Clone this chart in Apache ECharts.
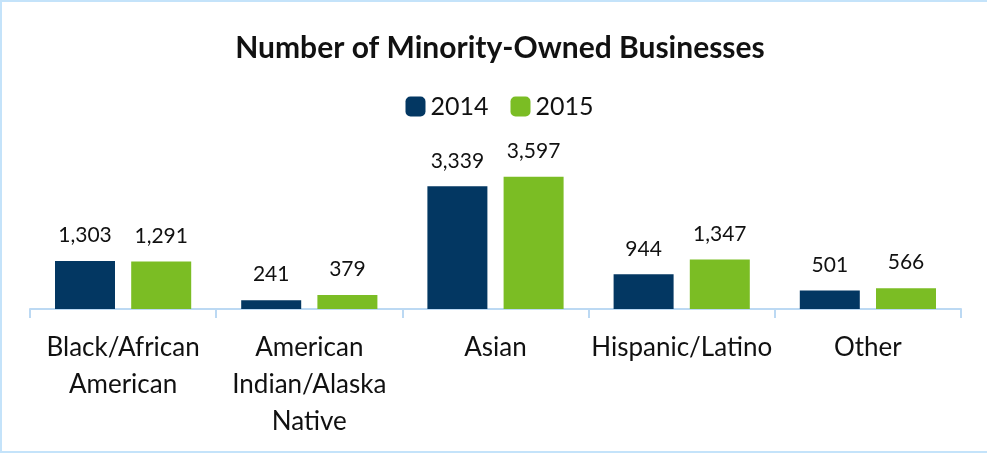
<!DOCTYPE html>
<html>
<head>
<meta charset="utf-8">
<script src="https://cdn.jsdelivr.net/npm/echarts@6/dist/echarts.min.js"></script>
<style>
  html, body { margin: 0; padding: 0; overflow: hidden; background: #fff; }
  .box {
    position: absolute; left: 0; top: 0;
    width: 995px; height: 449px;
    border: 2px solid #c4e3fa;
    box-sizing: content-box;
  }
  #chart { width: 995px; height: 449px; }
</style>
</head>
<body>
<div class="box"><div id="chart"></div></div>
<script>
// category labels (line breaks as in the original)
var categories = ['Black/African\nAmerican', 'American\nIndian/Alaska\nNative', 'Asian', 'Hispanic/Latino', 'Other']
var seriesNames = ['2014', '2015']
var values2014 = [1303, 241, 3339, 944, 501]
var values2015 = [1291, 379, 3597, 1347, 566]

var chart = echarts.init(document.getElementById('chart'))

var labelStyle = {
  show: true,
  position: 'top',
  distance: 15,
  color: '#111',
  fontSize: 21,
  fontFamily: 'Lato',
  formatter: function (p) { return p.value.toLocaleString('en-US') }
}

chart.setOption({
  animation: false,
  backgroundColor: '#fff',
  title: {
    text: 'Number of Minority-Owned Businesses',
    left: 493,
    textAlign: 'center',
    top: 26,
    textStyle: {
      fontFamily: 'Lato',
      fontWeight: 'bold',
      fontSize: 30,
      color: '#111'
    }
  },
  legend: {
    data: seriesNames,
    top: 87,
    left: 'center',
    itemWidth: 20,
    itemHeight: 20,
    itemGap: 22,
    textStyle: { fontFamily: 'Lato', fontSize: 25, color: '#111' }
  },
  grid: {
    left: 28,
    width: 931,
    top: 160,
    bottom: 142,
    containLabel: false
  },
  xAxis: {
    type: 'category',
    data: categories,
    axisLine: { lineStyle: { color: '#bcd9f3', width: 2 } },
    axisTick: { show: true, length: 9, lineStyle: { color: '#bcd9f3', width: 2 } },
    axisLabel: {
      interval: 0,
      margin: 20,
      color: '#111',
      fontFamily: 'Lato',
      fontSize: 26,
      lineHeight: 37
    }
  },
  yAxis: {
    type: 'value',
    min: 0,
    max: 4000,
    show: false,
    splitLine: { show: false }
  },
  series: [{
    name: seriesNames[0],
    type: 'bar',
    data: values2014,
    barWidth: 60,
    barGap: '27%',
    itemStyle: { color: '#033762' },
    label: labelStyle
  }, {
    name: seriesNames[1],
    type: 'bar',
    data: values2015,
    barWidth: 60,
    itemStyle: { color: '#7bbd24' },
    label: labelStyle
  }]
})
</script>
</body>
</html>
